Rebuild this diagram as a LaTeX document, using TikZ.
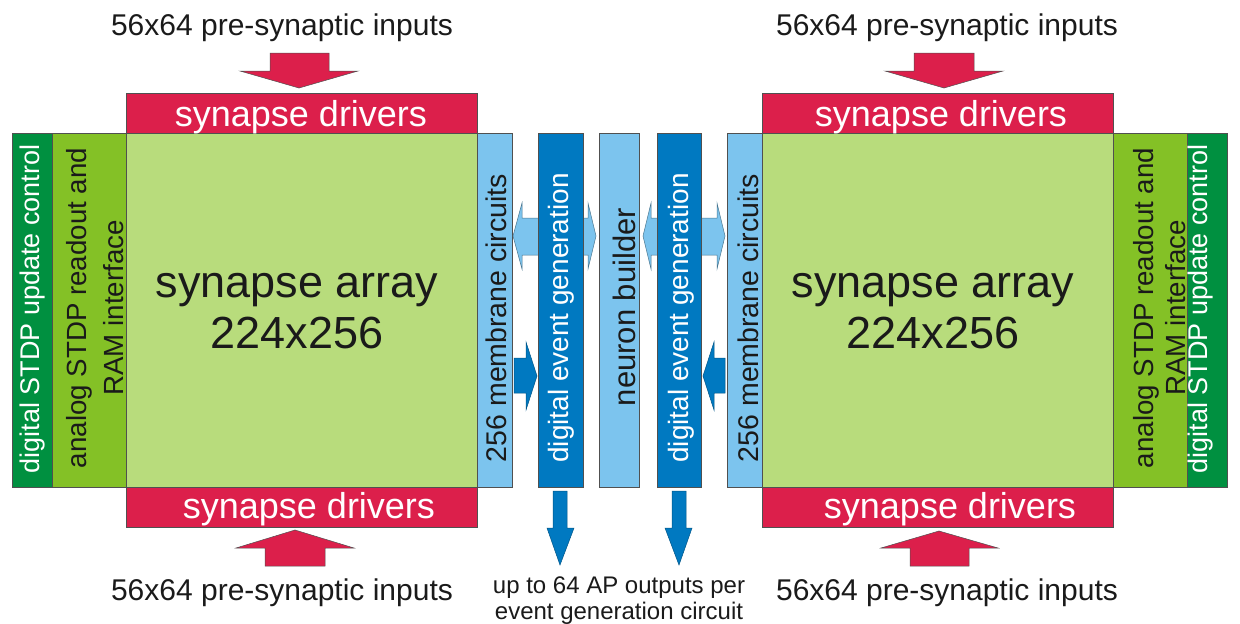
\documentclass[tikz,border=0pt]{standalone}
\usepackage{fontspec}
\setmainfont{Liberation Sans}
\definecolor{crim}{HTML}{DC1F4B}
\definecolor{arrgreen}{HTML}{B8DC7C}
\definecolor{anagreen}{HTML}{84C126}
\definecolor{dgreen}{HTML}{009040}
\definecolor{lblue}{HTML}{7CC4EE}
\definecolor{dblue}{HTML}{0079C1}
\definecolor{edge}{HTML}{505050}
\definecolor{ink}{HTML}{1A1A1A}
\begin{document}
\begin{tikzpicture}[x=1pt,y=-1pt,
  box/.style={draw=edge, line width=0.6pt, inner sep=0pt, outer sep=0pt, anchor=north west},
  blockarrow/.style={draw=edge, line width=0.5pt},
  txt/.style={inner sep=0pt, anchor=base, text=ink},
  wtxt/.style={inner sep=0pt, anchor=base, text=white},
  fs/.style={font=\fontsize{#1}{#1}\selectfont}]
\useasboundingbox (0,0) rectangle (1240,624);

% ---------- left half ----------
\node[box, fill=arrgreen, minimum width=351, minimum height=354] (arrL) at (126,133) {};
\node[box, fill=anagreen, minimum width=74, minimum height=354] (anaL) at (52,133) {};
\node[box, fill=dgreen, minimum width=40, minimum height=354] (ctlL) at (12,133) {};
\node[box, fill=crim, minimum width=351, minimum height=40] (drvTL) at (126,93) {};
\node[box, fill=crim, minimum width=351, minimum height=40] (drvBL) at (126,487) {};

% ---------- right half ----------
\node[box, fill=arrgreen, minimum width=351, minimum height=354] (arrR) at (762,133) {};
\node[box, fill=anagreen, minimum width=74, minimum height=354] (anaR) at (1113,133) {};
\node[box, fill=dgreen, minimum width=40, minimum height=354] (ctlR) at (1187,133) {};
\node[box, fill=crim, minimum width=351, minimum height=40] (drvTR) at (762,93) {};
\node[box, fill=crim, minimum width=351, minimum height=40] (drvBR) at (762,487) {};

% ---------- middle ----------
\node[box, fill=lblue, minimum width=35, minimum height=354] (memL) at (477,133) {};
\node[box, fill=lblue, minimum width=35, minimum height=354] (memR) at (727,133) {};

% light double arrows (behind event generation blocks)
\fill[lblue, blockarrow, draw=lblue!60!black] (513,236) -- (522,203) -- (522,218) -- (588,218) -- (588,203)
  -- (596,236) -- (588,269) -- (588,255) -- (522,255) -- (522,269) -- cycle;
\fill[lblue, blockarrow, draw=lblue!60!black] (643,236) -- (651,203) -- (651,218) -- (717,218) -- (717,203)
  -- (725,236) -- (717,269) -- (717,255) -- (651,255) -- (651,269) -- cycle;

\node[box, fill=dblue, minimum width=45, minimum height=354] (evL) at (538,133) {};
\node[box, fill=lblue, minimum width=40, minimum height=354] (nb) at (599,133) {};
\node[box, fill=dblue, minimum width=44, minimum height=354] (evR) at (657,133) {};

% dark blue arrows membrane -> event generation
\fill[dblue, blockarrow, draw=dblue!70!black] (514,358) -- (526,358) -- (526,342) -- (537,376)
  -- (526,410) -- (526,393) -- (514,393) -- cycle;
\fill[dblue, blockarrow, draw=dblue!70!black] (725,358) -- (714,358) -- (714,342) -- (703,376)
  -- (714,410) -- (714,393) -- (725,393) -- cycle;

% dark blue down arrows (outputs)
\fill[dblue, blockarrow, draw=dblue!70!black] (553,491) -- (567,491) -- (567,528) -- (574,528)
  -- (560,565) -- (547,528) -- (553,528) -- cycle;
\fill[dblue, blockarrow, draw=dblue!70!black] (672,491) -- (686,491) -- (686,528) -- (692,528)
  -- (679,565) -- (665,528) -- (672,528) -- cycle;

% red input arrows
\fill[crim, blockarrow] (270,53) -- (329,53) -- (329,71) -- (358,71) -- (299,88) -- (240,71) -- (270,71) -- cycle;
\fill[crim, blockarrow] (914,53) -- (974,53) -- (974,71) -- (1003,71) -- (944,88) -- (885,71) -- (914,71) -- cycle;
\fill[crim, blockarrow] (265,566) -- (325,566) -- (325,548) -- (354,548) -- (295,530) -- (236,548) -- (265,548) -- cycle;
\fill[crim, blockarrow] (910,566) -- (969,566) -- (969,548) -- (998,548) -- (939,531) -- (881,548) -- (910,548) -- cycle;

% ---------- texts ----------
\node[txt, fs=30] (inTL) at (282,35) {56x64 pre-synaptic inputs};
\node[txt, fs=30] (inTR) at (947,35) {56x64 pre-synaptic inputs};
\node[txt, fs=30] (inBL) at (282,600) {56x64 pre-synaptic inputs};
\node[txt, fs=30] (inBR) at (947,600) {56x64 pre-synaptic inputs};

\node[wtxt, fs=36] (tdTL) at (301,126) {synapse drivers};
\node[wtxt, fs=36] (tdTR) at (941,126) {synapse drivers};
\node[wtxt, fs=36] (tdBL) at (309,518) {synapse drivers};
\node[wtxt, fs=36] (tdBR) at (950,518) {synapse drivers};

\node[txt, fs=45] (taL1) at (297,297) {synapse array};
\node[txt, fs=45] (taL2) at (297,348) {224x256};
\node[txt, fs=45] (taR1) at (933,297) {synapse array};
\node[txt, fs=45] (taR2) at (933,348) {224x256};

\node[wtxt, fs=27, rotate=90] (tcL) at (39,309) {digital STDP update control};
\node[wtxt, fs=27, rotate=90] (tcR) at (1207,309) {digital STDP update control};

\node[txt, fs=27.7, rotate=90] (taaL1) at (86,308) {analog STDP readout and};
\node[txt, fs=27.7, rotate=90] (taaL2) at (123,308) {RAM interface};
\node[txt, fs=27.7, rotate=90] (taaR1) at (1153,308) {analog STDP readout and};
\node[txt, fs=27.7, rotate=90] (taaR2) at (1185,308) {RAM interface};

\node[txt, fs=28.5, rotate=90] (tmL) at (506,318) {256 membrane circuits};
\node[txt, fs=28.5, rotate=90] (tmR) at (758,318) {256 membrane circuits};
\node[wtxt, fs=28, rotate=90] (teL) at (568,318) {digital event generation};
\node[wtxt, fs=28, rotate=90] (teR) at (688,318) {digital event generation};
\node[txt, fs=31, rotate=90] (tnb) at (635,307) {neuron builder};

\node[txt, fs=24] (ap1) at (619,593) {up to 64 AP outputs per};
\node[txt, fs=24] (ap2) at (619,619) {event generation circuit};
\end{tikzpicture}
\end{document}
